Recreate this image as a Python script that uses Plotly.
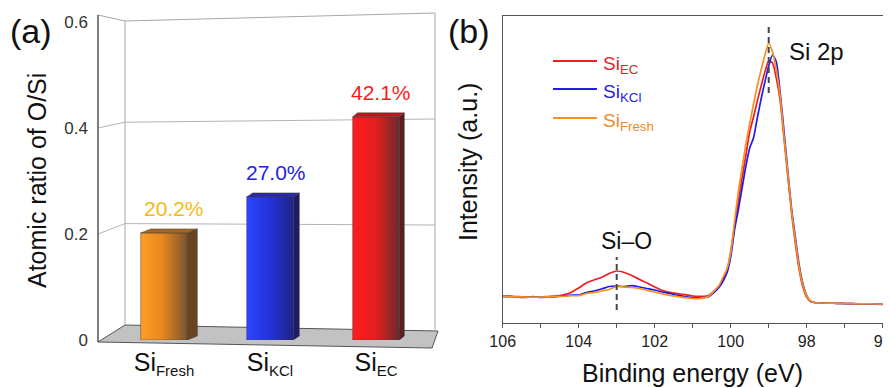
import plotly.graph_objects as go

W, H = 891, 388
OFF = 8  # default page margin of the html body
FONT = "Liberation Sans, Arial, sans-serif"

# ---------------- Panel (a) data ----------------
categories = ["Fresh", "KCl", "EC"]
ratio = [0.202, 0.270, 0.421]
ratio_labels = ["20.2%", "27.0%", "42.1%"]
ratio_ticks = [0, 0.2, 0.4, 0.6]
ratio_ticktext = ["0", "0.2", "0.4", "0.6"]

# ---------------- Panel (b) data ----------------
energy = [106.0, 105.8, 105.6, 105.4, 105.2, 105.0, 104.8, 104.6, 104.4, 104.2,
          104.0, 103.8, 103.6, 103.4, 103.2, 103.0, 102.8, 102.6, 102.4, 102.2,
          102.0, 101.8, 101.6, 101.4, 101.2, 101.0, 100.8, 100.6,
          100.4, 100.3, 100.2, 100.1, 100.0, 99.9, 99.8, 99.7, 99.6, 99.5,
          99.4, 99.3, 99.2, 99.1, 99.0, 98.9, 98.8, 98.7, 98.6, 98.5,
          98.4, 98.3, 98.2, 98.1, 98.0, 97.9, 97.8,
          97.6, 97.4, 97.2, 97.0, 96.8, 96.6, 96.4, 96.2, 96.0]
int_ec = [26.5, 26.3, 26.0, 25.8, 25.9, 25.7, 26.2, 26.6, 27.8, 30.2,
          34.7, 39.7, 42.7, 45.2, 49.2, 51.7, 50.2, 47.2, 43.2, 39.7,
          35.7, 32.2, 30.4, 29.0, 28.0, 26.7, 26.4, 26.9,
          32.7, 36.7, 42.7, 51.7, 70.7, 96.7, 120.7, 144.7, 167.7, 190.7,
          205.7, 221.7, 236.7, 250.7, 261.7, 259.7, 244.7, 222.7, 185.7, 147.7,
          110.7, 79.7, 53.7, 35.7, 25.7, 21.2, 20.2,
          19.8, 19.6, 19.3, 19.2, 19.0, 18.8, 18.7, 18.6, 18.5]
int_kcl = [26.0, 26.4, 25.6, 25.2, 26.0, 25.3, 25.8, 26.0, 26.8, 27.5,
           27.7, 30.2, 31.7, 33.7, 36.2, 36.7, 36.2, 37.0, 35.7, 34.2,
           32.7, 30.7, 29.2, 27.5, 26.2, 25.2, 24.9, 25.7,
           31.7, 35.7, 41.7, 49.7, 65.7, 92.7, 112.7, 134.7, 156.7, 174.7,
           184.7, 204.7, 223.7, 240.7, 256.7, 267.7, 260.7, 230.7, 192.7, 152.7,
           114.7, 86.0, 58.0, 39.0, 27.0, 21.4, 20.2,
           19.9, 19.5, 19.4, 19.1, 19.0, 18.9, 18.6, 18.6, 18.4]
int_fresh = [26.3, 26.0, 25.9, 25.6, 25.5, 25.6, 25.9, 26.2, 26.4, 27.0,
             27.0, 29.2, 30.2, 31.7, 33.2, 36.2, 35.7, 35.2, 34.2, 32.4,
             30.7, 28.9, 27.4, 26.2, 25.0, 24.2, 24.4, 25.9,
             33.2, 37.7, 45.7, 53.7, 69.7, 100.7, 130.7, 154.7, 178.7, 198.7,
             218.7, 236.7, 252.7, 267.7, 279.7, 270.7, 252.7, 226.7, 187.7, 150.7,
             112.7, 82.7, 55.7, 37.7, 26.7, 21.7, 20.2,
             19.7, 19.6, 19.4, 19.2, 19.1, 18.9, 18.8, 18.7, 18.5]
energy_ticks = [106, 104, 102, 100, 98, 96]
peak_marks = [99.0, 103.0]
peak_names = ["Si 2p", "Si\u2013O"]

series_names = ["EC", "KCl", "Fresh"]
series_data = [int_ec, int_kcl, int_fresh]
line_colors = ["#EE1C24", "#1E1EE6", "#F7901E"]
label_colors_b = ["#E8202A", "#2424D8", "#F08A28"]

# ---------------- styling ----------------
bar_front = [
    [[0, "#FF9D24"], [0.45, "#E8881E"], [1, "#7A5430"]],
    [[0, "#2E44FF"], [0.5, "#2233DA"], [1, "#222284"]],
    [[0, "#FF1C1C"], [0.5, "#E41F1F"], [1, "#6A2A2A"]],
]
bar_base = ["#E8881E", "#2233DA", "#E41F1F"]
bar_side = ["#6A4320", "#1C1C6C", "#5C1E1E"]
bar_top = ["#A8651C", "#2A2AA8", "#B81A1A"]
pct_colors = ["#F4B916", "#2323DC", "#FF1A1A"]
side_px = [10, 6, 5]

def PX(x):
    return (x - OFF) / W

def PY(y):
    return 1 - (y - OFF) / H

# panel (a) axis mapping (screen px): px = 164 + 106*x ; py = 340 - 530*v
XA_SCALE, XA_C0 = 106.0, 164.0
YA_SCALE, YA_0 = 530.0, 340.0
bar_w = 0.44
dy = 4.0 / YA_SCALE

fig = go.Figure()

# ---- panel (a): bars ----
fig.add_trace(go.Bar(
    x=list(range(len(categories))), y=ratio, width=bar_w,
    marker=dict(color=bar_base, line=dict(width=0)),
    xaxis="x", yaxis="y", showlegend=False, hoverinfo="skip"))

for i, v in enumerate(ratio):
    xl, xr = i - bar_w / 2, i + bar_w / 2
    dx = side_px[i] / XA_SCALE
    fig.add_trace(go.Scatter(
        x=[xl, xr, xr, xl, xl], y=[0, 0, v, v, 0], mode="lines",
        fill="toself", fillgradient=dict(type="horizontal", colorscale=bar_front[i]),
        line=dict(width=0.7, color="rgba(70,70,70,0.7)"),
        xaxis="x", yaxis="y", showlegend=False, hoverinfo="skip"))
    fig.add_trace(go.Scatter(
        x=[xr, xr, xr + dx, xr + dx, xr], y=[0, v, v + dy, dy, 0], mode="lines",
        fill="toself", fillcolor=bar_side[i],
        line=dict(width=0.7, color="rgba(60,60,60,0.7)"),
        xaxis="x", yaxis="y", showlegend=False, hoverinfo="skip"))
    fig.add_trace(go.Scatter(
        x=[xl, xr, xr + dx, xl + dx, xl], y=[v, v, v + dy, v + dy, v], mode="lines",
        fill="toself", fillcolor=bar_top[i],
        line=dict(width=0.7, color="rgba(60,60,60,0.7)"),
        xaxis="x", yaxis="y", showlegend=False, hoverinfo="skip"))

# ---- panel (b): spectra ----
for name, data, col in zip(series_names, series_data, line_colors):
    fig.add_trace(go.Scatter(
        x=energy, y=data, mode="lines", name="Si" + name,
        line=dict(color=col, width=1.7, shape="spline", smoothing=0.6),
        xaxis="x2", yaxis="y2", showlegend=False))

shapes = []
annotations = []

# ---- panel (a) pseudo-3D frame ----
floor = [(98, 342), (432, 348), (438, 331), (125, 325)]
shapes.append(dict(type="path", xref="paper", yref="paper", layer="below",
                   path="M " + " L ".join(f"{PX(a)},{PY(b)}" for a, b in floor) + " Z",
                   fillcolor="#C2C2C2", line=dict(color="#555555", width=1)))
frame_lines = [((125, 21), (125, 325)), ((125, 21), (435, 13)), ((435, 13), (435, 331)),
               ((98, 15), (125, 21))]
for (a, b), (c, d) in frame_lines:
    shapes.append(dict(type="line", xref="paper", yref="paper", layer="below",
                       x0=PX(a), y0=PY(b), x1=PX(c), y1=PY(d),
                       line=dict(color="#A8A8A8", width=1)))
for v in ratio_ticks[1:-1]:
    yf = YA_0 - YA_SCALE * v
    yb = 325 - 507 * v
    ybr = 331 - 530 * v
    shapes.append(dict(type="path", xref="paper", yref="paper", layer="below",
                       path=f"M {PX(98)},{PY(yf)} L {PX(125)},{PY(yb)} L {PX(435)},{PY(ybr)}",
                       line=dict(color="#B4B4B4", width=1)))
shapes.append(dict(type="line", xref="paper", yref="paper", layer="below",
                   x0=PX(98), y0=PY(15), x1=PX(98), y1=PY(342),
                   line=dict(color="#3A3A3A", width=1.3)))

# percent labels
for i, (v, t) in enumerate(zip(ratio, ratio_labels)):
    annotations.append(dict(x=i + side_px[i] / XA_SCALE, y=v + dy, xref="x", yref="y",
                            text=t, showarrow=False, xanchor="center", yanchor="bottom", yshift=7,
                            font=dict(size=21, color=pct_colors[i], family=FONT)))

# ---- panel (b) dashed peak markers ----
mark_ranges = [(229.7, 296.7), (12.7, 65.7)]
for e, (y0, y1) in zip(peak_marks, mark_ranges):
    shapes.append(dict(type="line", xref="x2", yref="y2", x0=e, x1=e, y0=y0, y1=y1,
                       line=dict(color="#454545", width=2, dash="6px,4px")))

def label(xp, yp, text, size, color="#111", angle=0, xanchor="center"):
    return dict(x=PX(xp), y=PY(yp), xref="paper", yref="paper", text=text,
                showarrow=False, xanchor=xanchor, yanchor="middle", textangle=angle,
                font=dict(size=size, color=color, family=FONT))

annotations.append(label(816, 51, peak_names[0], 24))
annotations.append(label(626, 241, peak_names[1], 23))

# manual legend for panel (b)
leg_rows = [61, 89, 118]
for name, col, tcol, ry in zip(series_names, line_colors, label_colors_b, leg_rows):
    shapes.append(dict(type="line", xref="paper", yref="paper",
                       x0=PX(553), x1=PX(597), y0=PY(ry), y1=PY(ry),
                       line=dict(color=col, width=1.8)))
    annotations.append(label(601, ry + 4, f"Si<sub>{name}</sub>", 19, tcol, xanchor="left"))

annotations += [
    label(31, 31, "(a)", 34),
    label(469, 31, "(b)", 34),
    label(37, 181, "Atomic ratio of O/Si", 25, angle=-90),
    label(468, 162, "Intensity (a.u.)", 25, angle=-90),
    label(692, 373, "Binding energy (eV)", 25),
]

cat_text = [f"Si<sub><span style='font-size:15px'>{c}</span></sub>" for c in categories]

fig.update_layout(
    width=W, height=H, margin=dict(l=0, r=0, t=0, b=0, autoexpand=False),
    paper_bgcolor="white", plot_bgcolor="rgba(0,0,0,0)",
    font=dict(family=FONT, color="#111"),
    bargap=0,
    shapes=shapes, annotations=annotations,
    xaxis=dict(domain=[PX(98), PX(432)], anchor="y", automargin=False,
               range=[(98 - XA_C0) / XA_SCALE, (432 - XA_C0) / XA_SCALE],
               tickvals=list(range(len(categories))), ticktext=cat_text,
               tickfont=dict(size=25, color="#111", family=FONT),
               showgrid=False, zeroline=False, showline=False, ticks="",
               ticklabelstandoff=5),
    yaxis=dict(domain=[PY(YA_0), PY(YA_0 - YA_SCALE * 0.6)], anchor="x", automargin=False,
               range=[0, 0.6], tickvals=ratio_ticks, ticktext=ratio_ticktext,
               tickfont=dict(size=17, color="#333", family=FONT),
               showgrid=False, zeroline=False, showline=False, ticks="",
               ticklabelstandoff=9),
    xaxis2=dict(domain=[PX(502.7), PX(882.7)], anchor="y2", range=[106, 96], automargin=False,
                tickvals=energy_ticks, ticks="outside", ticklen=4, tickwidth=1.2,
                tickcolor="#555",
                minor=dict(dtick=1, ticks="outside", ticklen=4, tickwidth=1.2, tickcolor="#555"),
                showline=True, mirror=True, linecolor="#555", linewidth=1.3,
                showgrid=False, zeroline=False,
                tickfont=dict(size=16, color="#222", family=FONT)),
    yaxis2=dict(domain=[PY(322.7), PY(15.7)], anchor="x2", range=[0, 307], automargin=False,
                showticklabels=False, ticks="", showline=True, mirror=True,
                linecolor="#555", linewidth=1.3, showgrid=False, zeroline=False),
)

fig.write_html("out.html")
